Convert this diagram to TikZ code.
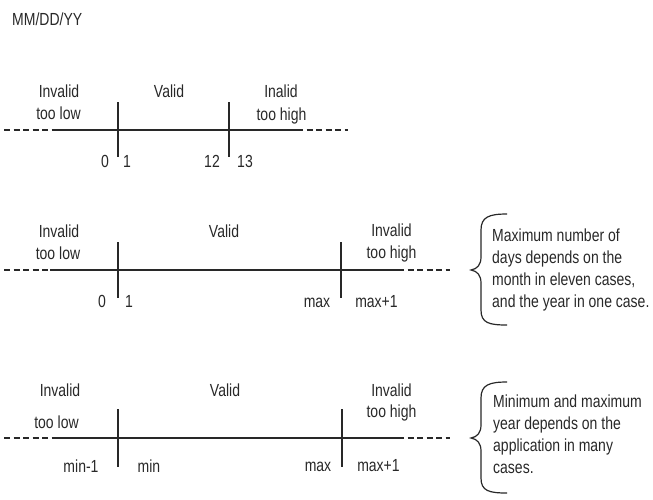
\documentclass[tikz,border=0pt]{standalone}
\usepackage{fontspec}
\setmainfont{Liberation Sans}[FakeStretch=0.8]
\usepackage{tikz}
\usetikzlibrary{positioning}
\definecolor{tinta}{RGB}{40,40,40}
\tikzset{arista/.style={line width=1.2pt, draw=tinta}}
\tikzset{punteada/.style={line width=1.1pt, draw=tinta, dash pattern=on 6pt off 3.5pt}}
\tikzset{marca/.style={line width=1.4pt, draw=tinta}}
\tikzset{etiqueta/.style={text=tinta, inner sep=0pt, anchor=base, font=\fontsize{17.5}{22}\selectfont}}
\tikzset{nota/.style={etiqueta, anchor=base west, align=left}}

\begin{document}
\begin{tikzpicture}[x=1pt, y=-1pt]
            \useasboundingbox (0,0) rectangle (653,499);
            \node[etiqueta, anchor=base west] (titulo) at (12,25) {MM/DD/YY};

            % meses
            \coordinate (a1) at (4,130);
            \coordinate (a2) at (58,130);
            \coordinate (a3) at (297,130);
            \coordinate (a4) at (348,130);
            \coordinate (m1) at (118,102);
            \coordinate (m2) at (118,157);
            \coordinate (m3) at (229,102);
            \coordinate (m4) at (229,157);

            \draw[punteada] (a1) -- (a2);
            \draw[arista] (a2) -- (a3);
            \draw[punteada] (a3) -- (a4);
            \draw[marca] (m1) -- (m2);
            \draw[marca] (m3) -- (m4);

            \node[etiqueta] (inv1) at (59,97) {Invalid};
            \node[etiqueta] (baj1) at (58.5,119) {too low};
            \node[etiqueta] (val1) at (169,97) {Valid};
            \node[etiqueta] (ina1) at (281,97) {Inalid};
            \node[etiqueta] (alt1) at (281.5,120) {too high};
            \node[etiqueta] (c1) at (105,167) {0};
            \node[etiqueta] (u1) at (127,167) {1};
            \node[etiqueta] (d1) at (212,167) {12};
            \node[etiqueta] (t1) at (245,167) {13};

            % dias
            \coordinate (b1) at (4,270);
            \coordinate (b2) at (50,270);
            \coordinate (b3) at (398,270);
            \coordinate (b4) at (450,270);
            \coordinate (n1) at (118,242);
            \coordinate (n2) at (118,298);
            \coordinate (n3) at (341,242);
            \coordinate (n4) at (341,298);

            \draw[punteada] (b1) -- (b2);
            \draw[arista] (b2) -- (b3);
            \draw[punteada] (b3) -- (b4);
            \draw[marca] (n1) -- (n2);
            \draw[marca] (n3) -- (n4);

            \node[etiqueta] (inv2) at (59,237) {Invalid};
            \node[etiqueta] (baj2) at (58,259) {too low};
            \node[etiqueta] (val2) at (224,237) {Valid};
            \node[etiqueta] (ina2) at (391.5,236) {Invalid};
            \node[etiqueta] (alt2) at (391.5,258) {too high};
            \node[etiqueta] (c2) at (102,307) {0};
            \node[etiqueta] (u2) at (129,307) {1};
            \node[etiqueta] (d2) at (317,307) {max};
            \node[etiqueta] (t2) at (376.5,307) {max+1};

            \draw[arista] (507,214) .. controls (489,214) and (481,217) .. (481,230)
                -- (481,257) .. controls (481,265) and (477,269) .. (471,270)
                .. controls (477,271) and (481,275) .. (481,283)
                -- (481,310) .. controls (481,323) and (489,325) .. (507,325);
            \node[nota] (txt2) at (492,307) {Maximum number of\\days depends on the\\month in eleven cases,\\and the year in one case.};

            % anios
            \coordinate (e1) at (4,438);
            \coordinate (e2) at (58,438);
            \coordinate (e3) at (398,438);
            \coordinate (e4) at (450,438);
            \coordinate (k1) at (118,409);
            \coordinate (k2) at (118,467);
            \coordinate (k3) at (342,409);
            \coordinate (k4) at (342,467);

            \draw[punteada] (e1) -- (e2);
            \draw[arista] (e2) -- (e3);
            \draw[punteada] (e3) -- (e4);
            \draw[marca] (k1) -- (k2);
            \draw[marca] (k3) -- (k4);

            \node[etiqueta] (inv3) at (60,396) {Invalid};
            \node[etiqueta] (baj3) at (56.5,428) {too low};
            \node[etiqueta] (val3) at (225,396) {Valid};
            \node[etiqueta] (ina3) at (391.5,396) {Invalid};
            \node[etiqueta] (alt3) at (391.5,417) {too high};
            \node[etiqueta] (c3) at (81,472) {min-1};
            \node[etiqueta] (u3) at (149,472) {min};
            \node[etiqueta] (d3) at (318,471) {max};
            \node[etiqueta] (t3) at (378.5,471) {max+1};

            \draw[arista] (507,382) .. controls (489,382) and (481,385) .. (481,398)
                -- (481,425) .. controls (481,433) and (477,437) .. (471,438)
                .. controls (477,439) and (481,443) .. (481,451)
                -- (481,478) .. controls (481,491) and (489,493) .. (507,493);
            \node[nota] (txt3) at (493,473) {Minimum and maximum\\year depends on the\\application in many\\cases.};
        \end{tikzpicture}
\end{document}
